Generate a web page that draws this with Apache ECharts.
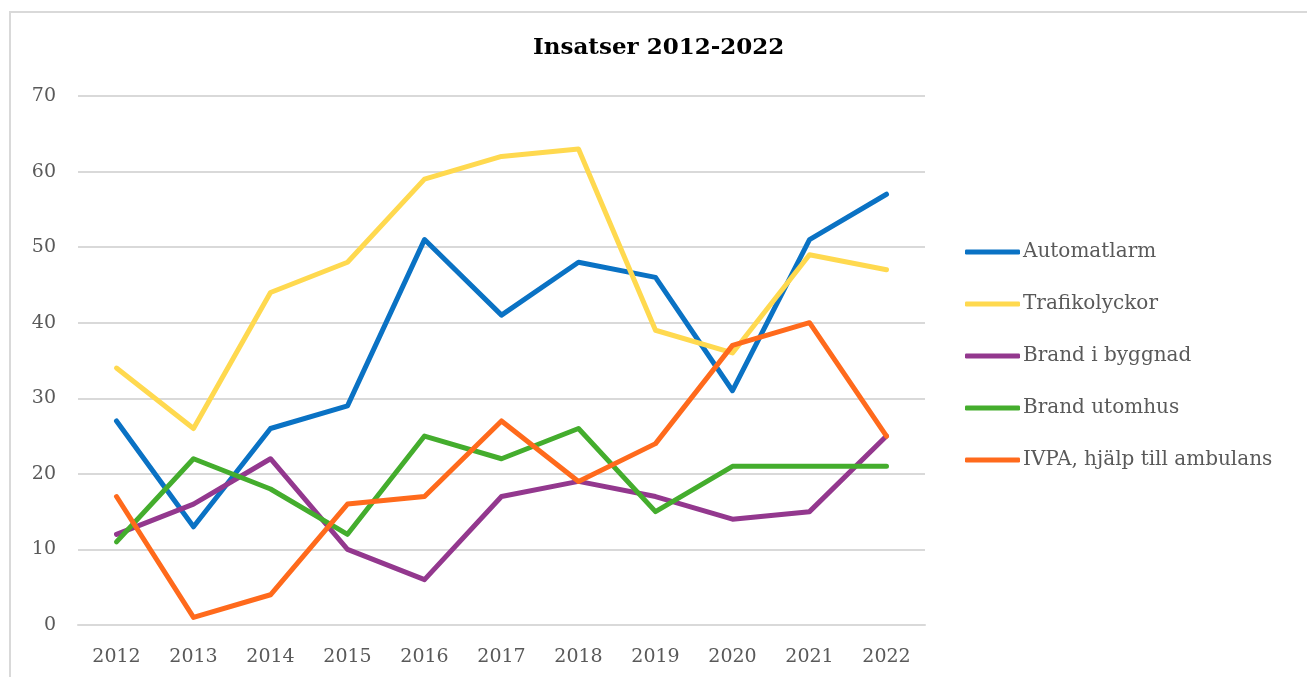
<!DOCTYPE html>
<html>
<head>
<meta charset="utf-8">
<script src="https://cdn.jsdelivr.net/npm/echarts@6/dist/echarts.min.js"></script>
<style>
  html, body { margin: 0; padding: 0; background: #fff; }
  #chart { width: 1307px; height: 677px; }
</style>
</head>
<body>
<div id="chart"></div>
<script>
const years = ['2012', '2013', '2014', '2015', '2016', '2017', '2018', '2019', '2020', '2021', '2022']

const automatlarm = [27, 13, 26, 29, 51, 41, 48, 46, 31, 51, 57]
const trafikolyckor = [34, 26, 44, 48, 59, 62, 63, 39, 36, 49, 47]
const brandByggnad = [12, 16, 22, 10, 6, 17, 19, 17, 14, 15, 25]
const brandUtomhus = [11, 22, 18, 12, 25, 22, 26, 15, 21, 21, 21]
const ivpa = [17, 1, 4, 16, 17, 27, 19, 24, 37, 40, 25]

const font = 'DejaVu Serif'
const chart = echarts.init(document.getElementById('chart'))

// en serie per linje
function line(name, data, color) {
  return {
    name: name,
    type: 'line',
    data: data,
    symbol: 'none',
    color: color,
    lineStyle: { width: 5, color: color, cap: 'round', join: 'round' }
  }
}

const option = {
  animation: false,
  backgroundColor: '#fff',
  graphic: [{
    type: 'rect',
    shape: { x: 10, y: 12, width: 1400, height: 800 },
    style: { fill: 'none', stroke: '#d9d9d9', lineWidth: 2 },
    silent: true
  }],
  title: {
    text: 'Insatser 2012-2022',
    left: 528,
    top: 32,
    textStyle: { fontFamily: font, fontSize: 23, fontWeight: 'bold', color: '#000' }
  },
  legend: {
    orient: 'vertical',
    left: 960,
    top: 236,
    itemWidth: 55,
    itemHeight: 5,
    itemGap: 30,
    icon: 'roundRect',
    textStyle: { fontFamily: font, fontSize: 20, color: '#595959', lineHeight: 22, padding: [0, 0, 0, -2] }
  },
  grid: {
    left: 78,
    right: 382,
    top: 96,
    bottom: 52
  },
  xAxis: {
    type: 'category',
    data: years,
    boundaryGap: true,
    axisLine: { lineStyle: { color: '#d9d9d9', width: 2 } },
    axisTick: { show: false },
    axisLabel: { fontFamily: font, fontSize: 19, color: '#595959', margin: 23 }
  },
  yAxis: {
    type: 'value',
    min: 0,
    max: 70,
    interval: 10,
    axisLine: { show: false },
    axisTick: { show: false },
    splitLine: { lineStyle: { color: '#d9d9d9', width: 2 } },
    axisLabel: { fontFamily: font, fontSize: 19, color: '#595959', margin: 22 }
  },
  series: [
    line('Automatlarm', automatlarm, '#0a72c4'),
    line('Trafikolyckor', trafikolyckor, '#ffd94f'),
    line('Brand i byggnad', brandByggnad, '#93388e'),
    line('Brand utomhus', brandUtomhus, '#44ad2d'),
    line('IVPA, hjälp till ambulans', ivpa, '#ff6a1c')
  ]
}

chart.setOption(option)
</script>
</body>
</html>
